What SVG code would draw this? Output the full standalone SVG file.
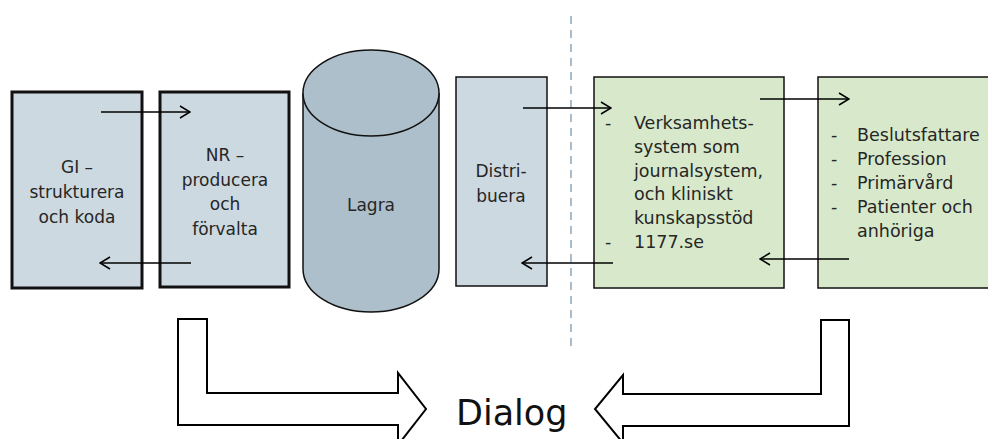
<svg xmlns="http://www.w3.org/2000/svg" width="988" height="439" viewBox="0 0 988 439">
<defs>
<style>
.t{font-family:"DejaVu Sans","Liberation Sans",sans-serif;font-size:17px;fill:#262626}
.g{font-family:"DejaVu Sans","Liberation Sans",sans-serif;font-size:17.5px;fill:#262626}
.gray{fill:#cdd9e0;stroke:#111;stroke-width:3}
.grayth{fill:#cdd9e0;stroke:#111;stroke-width:1.5}
.green{fill:#d8e9cb;stroke:#111;stroke-width:1.5}
.ar{stroke:#000;stroke-width:1.5;fill:none;marker-end:url(#ch)}
.big{fill:#fff;stroke:#000;stroke-width:2}
</style>
<marker id="ch" viewBox="0 0 12 14" refX="11" refY="7" markerWidth="12" markerHeight="14" markerUnits="userSpaceOnUse" orient="auto">
<path d="M1,1 L11,7 L1,13" fill="none" stroke="#000" stroke-width="1.5"/>
</marker>
</defs>
<rect width="988" height="439" fill="#fff"/>
<line x1="571" y1="16" x2="571" y2="352" stroke="#a9bccb" stroke-width="2" stroke-dasharray="8,6"/>
<g id="gi">
<rect class="gray" x="12" y="92" width="130" height="196"/>
<text class="t" text-anchor="middle" x="77"><tspan x="77" y="173">GI –</tspan><tspan x="77" y="198">strukturera</tspan><tspan x="77" y="223">och koda</tspan></text>
</g>
<g id="nr">
<rect class="gray" x="160" y="92" width="129" height="195"/>
<text class="t" text-anchor="middle"><tspan x="225" y="161">NR –</tspan><tspan x="225" y="186">producera</tspan><tspan x="225" y="210">och</tspan><tspan x="225" y="235">förvalta</tspan></text>
</g>
<g id="lagra">
<path d="M303,93 V269 A68,43 0 0 0 439,269 V93" fill="#adbfca" stroke="#111" stroke-width="1.5"/>
<ellipse cx="371" cy="93" rx="68" ry="43" fill="#adbfca" stroke="#111" stroke-width="1.5"/>
<text class="t" text-anchor="middle" x="371" y="211">Lagra</text>
</g>
<g id="distribuera">
<rect class="grayth" x="456" y="77" width="91" height="209"/>
<text class="t" text-anchor="middle"><tspan x="501" y="177">Distri-</tspan><tspan x="501" y="202">buera</tspan></text>
</g>
<g id="verksamhet">
<rect class="green" x="594" y="77" width="190" height="211"/>
<text class="g"><tspan x="605" y="129">-</tspan><tspan x="634" y="129">Verksamhets-</tspan><tspan x="634" y="153">system som</tspan><tspan x="634" y="177">journalsystem,</tspan><tspan x="634" y="200">och kliniskt</tspan><tspan x="634" y="224">kunskapsstöd</tspan><tspan x="605" y="248">-</tspan><tspan x="634" y="248">1177.se</tspan></text>
</g>
<g id="mottagare">
<rect class="green" x="818" y="77" width="175" height="211"/>
<text class="g"><tspan x="831" y="141">-</tspan><tspan x="857" y="141">Beslutsfattare</tspan><tspan x="831" y="165">-</tspan><tspan x="857" y="165">Profession</tspan><tspan x="831" y="189">-</tspan><tspan x="857" y="189">Primärvård</tspan><tspan x="831" y="213">-</tspan><tspan x="857" y="213">Patienter och</tspan><tspan x="857" y="237">anhöriga</tspan></text>
</g>
<g id="dialog">
<text font-family="DejaVu Sans, Liberation Sans, sans-serif" font-size="35" fill="#111" x="456" y="425">Dialog</text>
</g>
<g id="connectors">
<line class="ar" x1="101" y1="112" x2="190" y2="112"/>
<line class="ar" x1="191" y1="263" x2="100" y2="263"/>
<line class="ar" x1="523" y1="108" x2="611" y2="108"/>
<line class="ar" x1="613" y1="263" x2="522" y2="263"/>
<line class="ar" x1="760" y1="99" x2="849" y2="99"/>
<line class="ar" x1="849" y1="259" x2="760" y2="259"/>
<path class="big" d="M178,319 H207 V393 H398 V373 L426,409 L398,445 V425 H178 Z"/>
<path class="big" d="M849,320 H821 V394 H623 V375 L595,409 L623,443 V426 H849 Z"/>
</g>
</svg>
